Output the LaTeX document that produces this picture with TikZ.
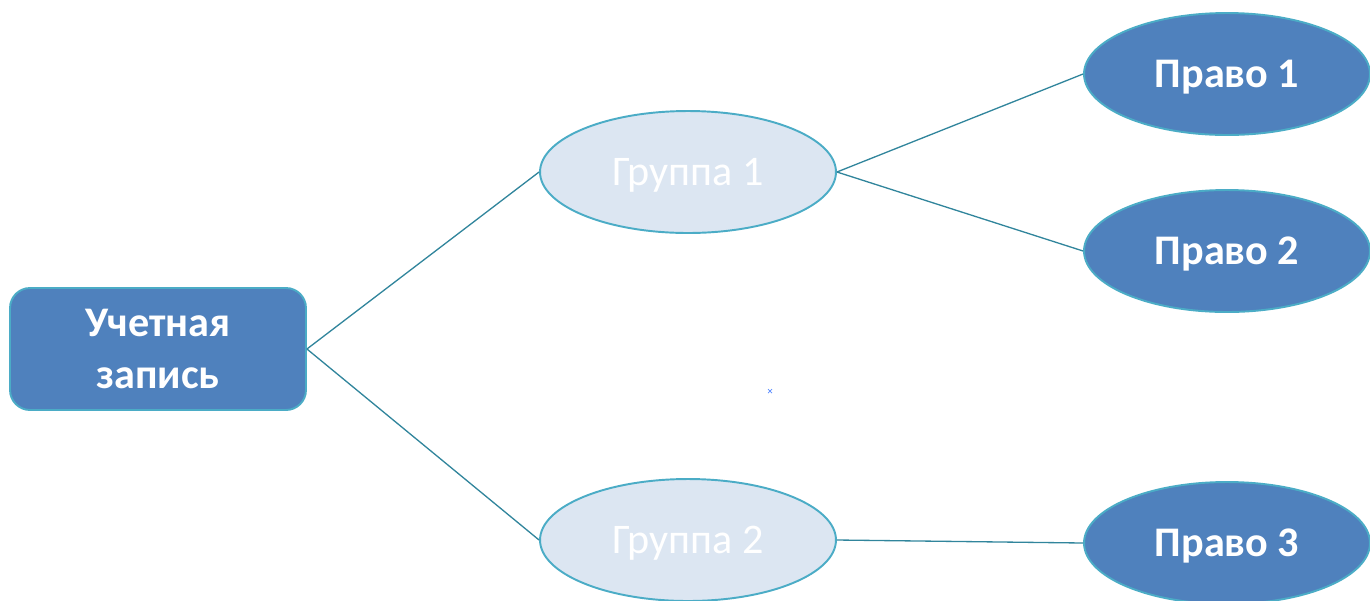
\documentclass[tikz,border=0pt]{standalone}
\usepackage{fontspec}
\setmainfont{Carlito}
\usetikzlibrary{positioning}
\usetikzlibrary{shapes.geometric}
\usetikzlibrary{math}
\usetikzlibrary{calc}

\definecolor{boxblue}{HTML}{4F81BD}
\definecolor{rimteal}{HTML}{4BACC6}
\definecolor{palefill}{HTML}{DCE6F2}
\definecolor{linkteal}{HTML}{31859C}
\definecolor{markblue}{HTML}{5B8CFF}

\tikzset{
  account/.style={rectangle, rounded corners=4mm, draw=rimteal, fill=boxblue,
    line width=1.1pt, minimum width=5.92cm, minimum height=2.44cm,
    text=white, font=\fontsize{24}{29.5}\selectfont\bfseries, align=center},
  groupnode/.style={ellipse, draw=rimteal, fill=palefill, line width=1.1pt,
    minimum width=5.92cm, minimum height=2.44cm, inner sep=0pt, text depth=0pt,
    text=white, font=\fontsize{24}{29}\selectfont},
  rightnode/.style={ellipse, draw=rimteal, fill=boxblue, line width=1.1pt,
    minimum width=5.72cm, minimum height=2.44cm, inner sep=0pt, text depth=0pt,
    text=white, font=\fontsize{24}{29}\selectfont\bfseries},
  link/.style={draw=linkteal, line width=0.75pt},
}

\begin{document}
\begin{tikzpicture}[x=0.02cm,y=-0.02cm]

  \tikzmath{
    \W = 1370; % picture width
    \H = 600;  % picture height
  }

  % fixed frame of the picture
  \useasboundingbox (0,0) rectangle (\W,\H);

  % account
  \node[account] (acc) at (158,349) {Учетная\\запись};

  % groups
  \node[groupnode] (grp1) at (688,172) {Группа 1};
  \node[groupnode] (grp2) at (688,540) {Группа 2};

  % rights
  \node[rightnode] (pr1) at (1227,74)  {Право 1};
  \node[rightnode] (pr2) at (1227,251) {Право 2};
  \node[rightnode] (pr3) at (1227,543) {Право 3};

  % links
  \draw[link] (acc.east) -- (grp1.west);
  \draw[link] (acc.east) -- (grp2.west);
  \draw[link] (grp1.east) -- (pr1.west);
  \draw[link] (grp1.east) -- (pr2.west);
  \draw[link] (grp2.east) -- (pr3.west);

  % small stray mark
  \coordinate (M) at (770,391);
  \draw[markblue, line width=0.4pt] ($(M)+(-2,-2)$) -- ($(M)+(2,2)$);
  \draw[markblue, line width=0.4pt] ($(M)+(-2,2)$) -- ($(M)+(2,-2)$);

\end{tikzpicture}
\end{document}
